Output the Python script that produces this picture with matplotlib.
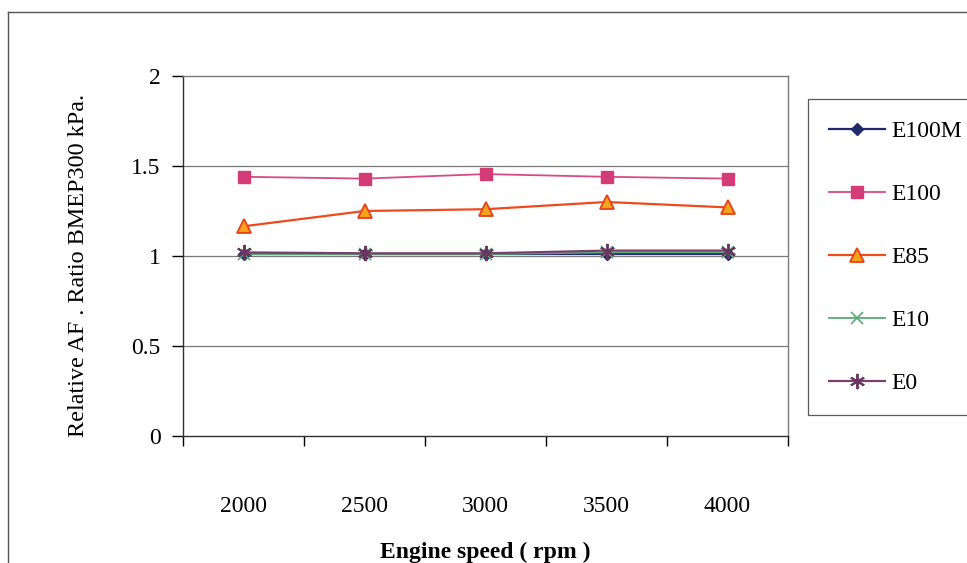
import numpy as np
import matplotlib
matplotlib.use('Agg')
import matplotlib.pyplot as plt
from matplotlib.lines import Line2D

plt.rcParams.update({
    "font.family": "serif",
    "font.serif": ["Liberation Serif", "DejaVu Serif"],
    "font.size": 17,
})

# Data
speeds = ["2000", "2500", "3000", "3500", "4000"]
e100m = [1.01, 1.01, 1.01, 1.01, 1.01]
e100 = [1.44, 1.43, 1.455, 1.44, 1.43]
e85 = [1.165, 1.25, 1.26, 1.30, 1.27]
e10 = [1.01, 1.01, 1.01, 1.02, 1.02]
e0 = [1.02, 1.015, 1.015, 1.03, 1.03]

y_ticks = [0, 0.5, 1, 1.5, 2]
y_labels = ["0", "0.5", "1", "1.5", "2"]

fig = plt.figure(figsize=(9.67, 5.63), dpi=100)
ax = fig.add_axes([183 / 967, 1 - 436 / 563, 605 / 967, 360 / 563])

x = np.arange(len(speeds))

ax.plot(x, e100m, color='#1f2a6b', lw=1.6, marker='D', ms=6,
        mfc='#1f2a6b', mec='#1f2a6b', label='E100M')
ax.plot(x, e100, color='#d84a86', lw=1.3, marker='s', ms=9,
        mfc='#d43c78', mec='#d43c78', label='E100')
ax.plot(x, e85, color='#f04a1c', lw=1.6, marker='^', ms=10,
        mfc='#f7a21b', mec='#e8401a', mew=1.3, label='E85')
ax.plot(x, e10, color='#5aa876', lw=1.3, marker='x', ms=9,
        mec='#5aa876', mew=1.2, label='E10')
ax.plot(x, e0, color='#7a3f6e', lw=1.6, marker=(6, 2, 0), ms=11,
        mec='#6a3560', mew=1.4, label='E0')

ax.set_xlim(-0.5, len(speeds) - 0.5)
ax.set_ylim(0, 2)

# category axis: tick marks between categories, labels centred
ax.set_xticks(np.arange(-0.5, len(speeds), 1.0))
ax.set_xticklabels([])
ax.set_xticks(x, minor=True)
ax.set_xticklabels(speeds, minor=True)
ax.tick_params(axis='x', which='major', direction='out', length=7, width=1)
ax.tick_params(axis='x', which='minor', length=0, pad=43, labelsize=17)

ax.set_yticks(y_ticks)
ax.set_yticklabels(y_labels)
ax.tick_params(axis='y', direction='out', length=8, width=1, pad=8, labelsize=17)

for yv in [0.5, 1, 1.5]:
    ax.axhline(yv, color='#7a7a7a', lw=0.9, zorder=0)

ax.spines['top'].set_color('#7a7a7a')
ax.spines['right'].set_color('#7a7a7a')
ax.spines['left'].set_color('#303030')
ax.spines['bottom'].set_color('#303030')
for s in ax.spines.values():
    s.set_linewidth(1.0)

ax.set_xlabel('Engine speed ( rpm )', fontweight='bold', fontsize=17, labelpad=18)
ax.set_ylabel('Relative AF . Ratio BMEP300 kPa.', fontsize=17.4)
ax.yaxis.set_label_coords(-0.155, 0.475)

leg = fig.legend(loc='upper left', bbox_to_anchor=(808 / 967, 1 - 99 / 563),
                 frameon=True, fancybox=False, edgecolor='#303030',
                 handlelength=2.35, labelspacing=1.76, borderpad=0.9,
                 handletextpad=0.3, fontsize=17, borderaxespad=0)
leg.get_frame().set_linewidth(0.9)

# outer chart border
fig.add_artist(Line2D([8 / 967, 1.0], [1 - 12 / 563, 1 - 12 / 563],
                      transform=fig.transFigure, color='#555555', lw=1.0))
fig.add_artist(Line2D([8 / 967, 8 / 967], [1 - 12 / 563, 0.0],
                      transform=fig.transFigure, color='#555555', lw=1.0))

fig.savefig('out.png', dpi=100)
